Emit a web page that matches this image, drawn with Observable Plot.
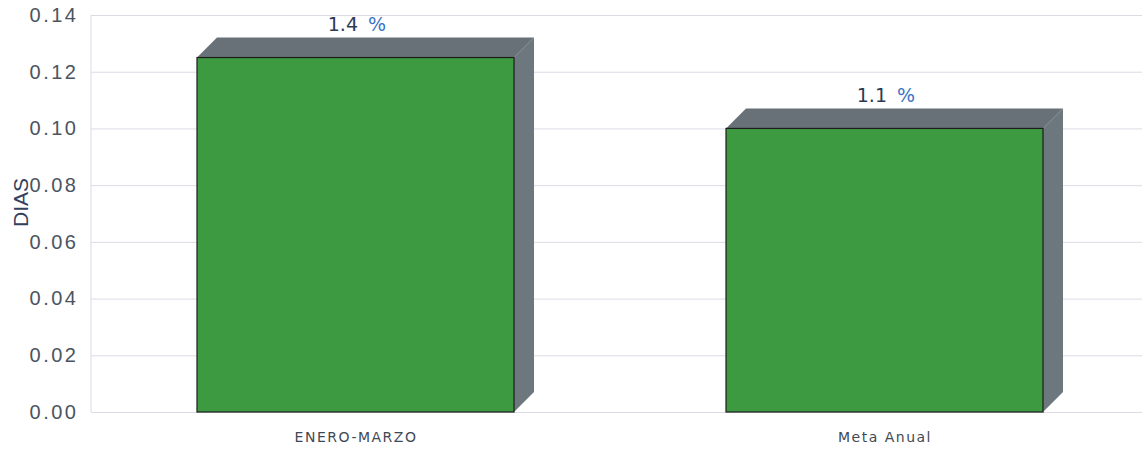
<!DOCTYPE html>
<html>
<head>
<meta charset="utf-8">
<script src="https://cdn.jsdelivr.net/npm/d3@7"></script>
<script src="https://cdn.jsdelivr.net/npm/@observablehq/plot@0.6"></script>
<style>
  html, body { margin: 0; padding: 0; background: #fff; }
  #chart svg [aria-label="x-axis tick label"] text { letter-spacing: 1.5px; }
  #chart svg [aria-label="y-axis tick label"] text { letter-spacing: 2.5px; }
</style>
</head>
<body>
<div id="chart"></div>
<script>
const categories = ["ENERO-MARZO", "Meta Anual"];
const values = [0.125, 0.100];
const valueLabels = ["1.4", "1.1"];
const unitLabel = "%";
const yTicks = [0, 0.02, 0.04, 0.06, 0.08, 0.10, 0.12, 0.14];
const yLabel = "DIAS";

const data = categories.map((c, i) => ({cat: c, val: values[i], label: valueLabels[i]}));

const DEPTH = 20;

function box3d(index, scales, values, dimensions, context) {
  const xs = scales.x, ys = scales.y;
  const bw = typeof xs.bandwidth === "function" ? xs.bandwidth() : xs.bandwidth;
  const g = d3.create("svg:g");
  for (const i of index) {
    const d = data[i];
    const x0 = xs(d.cat), x1 = x0 + bw;
    const yt = ys(d.val), yb = ys(0);
    g.append("path")
      .attr("d", `M${x1},${yt}L${x1 + DEPTH},${yt - DEPTH}L${x1 + DEPTH},${yb - DEPTH}L${x1},${yb}Z`)
      .attr("fill", "#6d777e");
    g.append("path")
      .attr("d", `M${x0},${yt}L${x0 + DEPTH},${yt - DEPTH}L${x1 + DEPTH},${yt - DEPTH}L${x1},${yt}Z`)
      .attr("fill", "#687177");
    g.append("rect")
      .attr("x", x0).attr("y", yt)
      .attr("width", bw).attr("height", yb - yt)
      .attr("fill", "#3e9a40")
      .attr("stroke", "#1d1d1d")
      .attr("stroke-width", 1.2);
  }
  return g.node();
}

function leftBorder(index, scales, values, dimensions) {
  const {marginLeft, marginTop, height, marginBottom} = dimensions;
  const g = d3.create("svg:g");
  g.append("line")
    .attr("x1", marginLeft).attr("x2", marginLeft)
    .attr("y1", marginTop).attr("y2", height - marginBottom)
    .attr("stroke", "#dadbe6");
  return g.node();
}

const chart = Plot.plot({
  width: 1142,
  height: 452,
  marginLeft: 91,
  marginRight: 0,
  marginTop: 15,
  marginBottom: 40,
  style: {fontFamily: "Liberation Sans", background: "#fff"},
  x: {type: "band", domain: categories, range: [-16, 1256], padding: 0.4},
  y: {domain: [0, 0.14]},
  marks: [
    Plot.ruleY(yTicks, {stroke: "#dadbe6", strokeWidth: 1}),
    Plot.frame({stroke: "none", render: leftBorder}),
    Plot.barY(data, {x: "cat", y: "val", render: box3d}),
    Plot.text(data, {x: "cat", y: "val", text: "label", dy: -33, dx: 2, textAnchor: "end",
      fontFamily: "DejaVu Sans", fontSize: 19, fill: "#2b3a56"}),
    Plot.text(data, {x: "cat", y: "val", text: () => unitLabel, dy: -33, dx: 12, textAnchor: "start",
      fontFamily: "DejaVu Sans", fontSize: 19, fill: "#3b74c4"}),
    Plot.axisY(yTicks, {tickSize: 0, tickPadding: 13, fontSize: 20, fill: "#4a5461",
      fontFamily: "Liberation Sans", tickFormat: d3.format(".2f"), label: null}),
    Plot.text([yLabel], {frameAnchor: "left", text: d => d, rotate: -90, dx: -70, dy: 13,
      fontFamily: "Liberation Sans", fontSize: 21, fill: "#33405e"}),
    Plot.axisX({tickSize: 0, tickPadding: 20, fontSize: 14, fill: "#3f4955",
      fontFamily: "DejaVu Sans", label: null})
  ]
});
document.getElementById("chart").appendChild(chart);
</script>
</body>
</html>
